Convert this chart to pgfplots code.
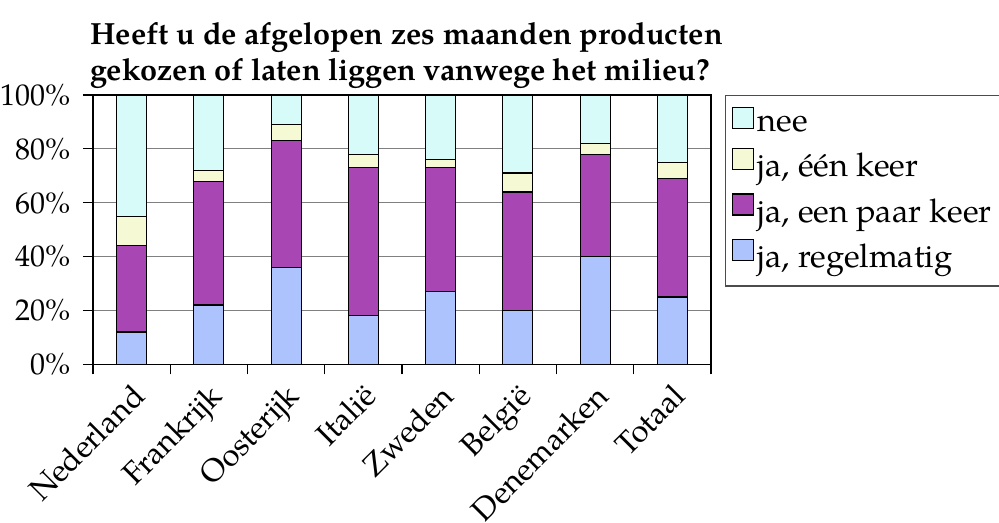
\documentclass[border=0pt]{standalone}
\usepackage{pgfplots}
\pgfplotsset{compat=1.18}
\usepackage{pgfplotstable}
\usepackage{fontspec}
\setmainfont{TeX Gyre Pagella}
\definecolor{cnee}{RGB}{214,251,248}
\definecolor{ceen}{RGB}{245,250,212}
\definecolor{cpaar}{RGB}{168,70,180}
\definecolor{cregel}{RGB}{172,195,253}
\pgfplotstableread{
x regel paar een nee
0 12 32 11 45
1 22 46 4 28
2 36 47 6 11
3 18 55 5 22
4 27 46 3 24
5 20 44 7 29
6 40 38 4 18
7 25 44 6 25
}\data
\begin{document}
\begin{tikzpicture}[x=1pt,y=1pt]
\node[anchor=base west, font=\fontsize{15.3}{17}\selectfont\bfseries, inner sep=0pt] at (45pt,-22.3pt) {Heeft u de afgelopen zes maanden producten};
\node[anchor=base west, font=\fontsize{15.3}{17}\selectfont\bfseries, inner sep=0pt] at (45pt,-40.3pt) {gekozen of laten liggen vanwege het milieu?};
\begin{axis}[
  at={(46.5pt,-182.15pt)}, anchor=south west,
  scale only axis, width=309pt, height=134.65pt,
  ybar stacked, bar width=15pt,
  xmin=-0.5, xmax=7.5, ymin=0, ymax=100,
  xtick pos=bottom, ytick pos=left,
  xtick={-0.5,0.5,...,7.5}, xticklabels={},
  extra x ticks={0,1,...,7},
  extra x tick labels={Nederland,Frankrijk,Oosterijk,Italië,Zweden,België,Denemarken,Totaal},
  extra x tick style={major tick length=0pt, tick label style={rotate=45, anchor=north east, inner sep=0pt, xshift=-6.6pt, yshift=-5.8pt, font=\fontsize{15.6}{15.6}\selectfont}},
  ytick={0,20,...,100},
  yticklabel={\pgfmathprintnumber{\tick}\%},
  yticklabel style={font=\fontsize{15}{15}\selectfont, inner sep=0pt, xshift=-6pt},
  /pgf/number format/assume math mode=true,
  tick align=outside, major tick length=5pt,
  tick style={black, line width=0.6pt},
  ymajorgrids, grid style={gray, line width=0.6pt},
  axis line style={black, line width=0.6pt},
  every axis plot/.append style={draw=black, line width=0.6pt},
  reverse legend,
  legend cell align=left,
  legend style={at={(1,1)}, anchor=north west, xshift=7pt, draw=black!70, line width=0.6pt,
    font=\fontsize{16.3}{16.3}\selectfont, row sep=4.8pt, inner xsep=3pt, inner ysep=5.5pt,
    nodes={inner sep=2pt}},
  legend image code/.code={\draw[#1, draw=black, line width=0.6pt] (0pt,-1.5pt) rectangle (10.5pt,9pt);},
]
\addplot[fill=cregel] table[x=x, y=regel] {\data};
\addplot[fill=cpaar] table[x=x, y=paar] {\data};
\addplot[fill=ceen] table[x=x, y=een] {\data};
\addplot[fill=cnee] table[x=x, y=nee] {\data};
\legend{{ja, regelmatig}, {ja, een paar keer}, {ja, één keer}, nee}
\end{axis}
\pgfresetboundingbox
\useasboundingbox (0pt,0pt) rectangle (499.5pt,-261.5pt);
\end{tikzpicture}
\end{document}
